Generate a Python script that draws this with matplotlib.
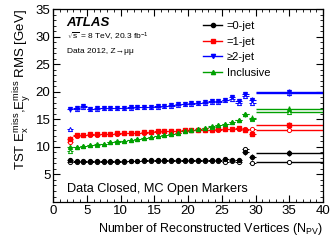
import numpy as np
import matplotlib
matplotlib.use('Agg')
import matplotlib.pyplot as plt
from matplotlib.ticker import MultipleLocator

plt.rcParams['font.family'] = ['Liberation Sans', 'DejaVu Sans']
plt.rcParams['mathtext.fontset'] = 'custom'
plt.rcParams['mathtext.rm'] = 'Liberation Sans'
plt.rcParams['mathtext.it'] = 'Liberation Sans:italic'

# bin centres (N_PV) and the wide last bin
npv = np.arange(2.5, 30.0, 1.0)
npv_wide = 35.0

jet0_data = [7.6, 7.5, 7.4, 7.4, 7.4, 7.5, 7.5, 7.5, 7.5, 7.5, 7.5, 7.6, 7.6, 7.6,
             7.6, 7.6, 7.6, 7.7, 7.7, 7.6, 7.7, 7.7, 7.7, 7.8, 7.7, 7.7, 9.0, 8.2]
jet0_mc = [7.2, 7.3, 7.2, 7.2, 7.3, 7.3, 7.3, 7.3, 7.3, 7.4, 7.4, 7.4, 7.4, 7.4,
           7.4, 7.4, 7.4, 7.4, 7.4, 7.4, 7.4, 7.4, 7.4, 7.3, 7.4, 7.2, 9.7, 7.0]
jet1_data = [11.5, 12.2, 12.2, 12.3, 12.3, 12.4, 12.4, 12.5, 12.5, 12.6, 12.6, 12.7, 12.7, 12.8,
             12.8, 12.9, 12.9, 13.0, 13.0, 13.0, 13.1, 13.1, 13.2, 13.2, 13.3, 13.4, 13.1, 12.4]
jet1_mc = [10.8, 12.0, 12.1, 12.2, 12.2, 12.3, 12.4, 12.4, 12.5, 12.5, 12.6, 12.6, 12.7, 12.7,
           12.8, 12.8, 12.9, 12.9, 13.0, 13.0, 13.0, 13.1, 13.1, 13.2, 13.2, 13.3, 13.3, 13.3]
jet2_data = [16.8, 17.0, 17.4, 16.9, 17.0, 17.1, 17.0, 17.1, 17.1, 17.2, 17.2, 17.3, 17.3, 17.4,
             17.5, 17.6, 17.7, 17.8, 17.9, 18.0, 18.1, 18.3, 18.4, 18.5, 19.1, 18.3, 19.6, 18.5]
jet2_mc = [13.3, 16.9, 17.2, 16.8, 16.9, 17.0, 17.0, 17.0, 17.1, 17.1, 17.2, 17.2, 17.3, 17.3,
           17.4, 17.5, 17.6, 17.7, 17.8, 17.9, 18.0, 18.1, 18.2, 18.5, 18.6, 18.0, 19.3, 18.0]
incl_data = [10.0, 10.0, 10.2, 10.3, 10.5, 10.6, 10.8, 11.0, 11.1, 11.3, 11.5, 11.6, 11.8, 12.0,
             12.2, 12.4, 12.6, 12.8, 13.0, 13.2, 13.4, 13.7, 13.9, 14.2, 14.5, 14.8, 15.9, 15.3]
incl_mc = [9.2, 9.9, 10.1, 10.3, 10.4, 10.6, 10.8, 10.9, 11.1, 11.3, 11.4, 11.6, 11.8, 12.0,
           12.2, 12.4, 12.6, 12.8, 13.0, 13.2, 13.4, 13.6, 13.9, 14.2, 14.5, 14.9, 16.0, 15.0]
data_err = [0.4, 0.15, 0.1, 0.1, 0.1, 0.1, 0.1, 0.1, 0.1, 0.1, 0.1, 0.1, 0.1, 0.1,
            0.1, 0.1, 0.1, 0.1, 0.1, 0.15, 0.15, 0.15, 0.2, 0.2, 0.25, 0.3, 0.4, 0.5]

# wide bin 30-40: (data, mc)
wide = {'=0-jet': (8.9, 7.2), '=1-jet': (14.0, 13.1), '≥2-jet': (19.9, 19.8), 'Inclusive': (16.9, 16.4)}
wide_err = 0.6

series = [
    ('=0-jet', jet0_data, jet0_mc, 'black', 'o', 'o'),
    ('=1-jet', jet1_data, jet1_mc, 'red', 's', 'o'),
    ('≥2-jet', jet2_data, jet2_mc, 'blue', 'v', '^'),
    ('Inclusive', incl_data, incl_mc, '#00a000', '^', '^'),
]

fig = plt.figure(figsize=(3.32, 2.44), dpi=100)
ax = fig.add_axes([0.16, 0.172, 0.813, 0.791])

for name, d, m, c, mk, mk_mc in series:
    ax.errorbar(npv, m, xerr=0.5, yerr=0.05, fmt=mk_mc, ms=3, mfc='white', mec=c,
                mew=0.7, color=c, elinewidth=0.7, capsize=0)
    ax.errorbar(npv, d, xerr=0.5, yerr=data_err, fmt=mk, ms=2.8, color=c,
                elinewidth=0.8, capsize=0)
    wd, wm = wide[name]
    ax.errorbar([npv_wide], [wm], xerr=5, yerr=0.1, fmt=mk_mc, ms=3, mfc='white', mec=c,
                mew=0.7, color=c, elinewidth=1.0, capsize=0)
    ax.errorbar([npv_wide], [wd], xerr=5, yerr=wide_err, fmt=mk, ms=2.8, color=c,
                elinewidth=1.0, capsize=0)
    ax.plot([], [], color=c, marker=mk, ms=3, lw=1.0, label=name)

ax.set_xlim(0, 40)
ax.set_ylim(0, 35)
ax.xaxis.set_major_locator(MultipleLocator(5))
ax.xaxis.set_minor_locator(MultipleLocator(1))
ax.yaxis.set_major_locator(MultipleLocator(5))
ax.yaxis.set_minor_locator(MultipleLocator(1))
ax.tick_params(which='both', direction='in', top=True, right=True, labelsize=9.5, pad=2)
ax.tick_params(which='major', length=5, width=0.8)
ax.tick_params(which='minor', length=2.5, width=0.6)
ax.set_yticks([5, 10, 15, 20, 25, 30, 35])
for s in ax.spines.values():
    s.set_linewidth(0.9)

ax.set_xlabel('Number of Reconstructed Vertices (N$_{\\mathregular{PV}}$)', fontsize=9, loc='right', labelpad=3)
ax.set_ylabel('TST E$_{\\mathregular{x}}^{\\mathregular{miss}}$,E$_{\\mathregular{y}}^{\\mathregular{miss}}$ RMS [GeV]',
              fontsize=9.5, loc='top', labelpad=2)

ax.text(0.05, 0.93, 'ATLAS', transform=ax.transAxes, fontsize=9.5, fontweight='bold', style='italic', va='center')
ax.text(0.05, 0.855, '$\\sqrt{\\mathregular{s}}$ = 8 TeV, 20.3 fb$^{\\mathregular{-1}}$', transform=ax.transAxes,
        fontsize=6, va='center')
ax.text(0.05, 0.78, 'Data 2012, Z→μμ', transform=ax.transAxes, fontsize=6, va='center')
ax.text(0.05, 0.065, 'Data Closed, MC Open Markers', transform=ax.transAxes, fontsize=9.2, va='center')

ax.legend(loc='upper left', bbox_to_anchor=(0.54, 0.96), frameon=False, fontsize=8,
          handlelength=1.7, handletextpad=0.4, labelspacing=0.5, borderaxespad=0)

fig.savefig('out.png', dpi=100)
